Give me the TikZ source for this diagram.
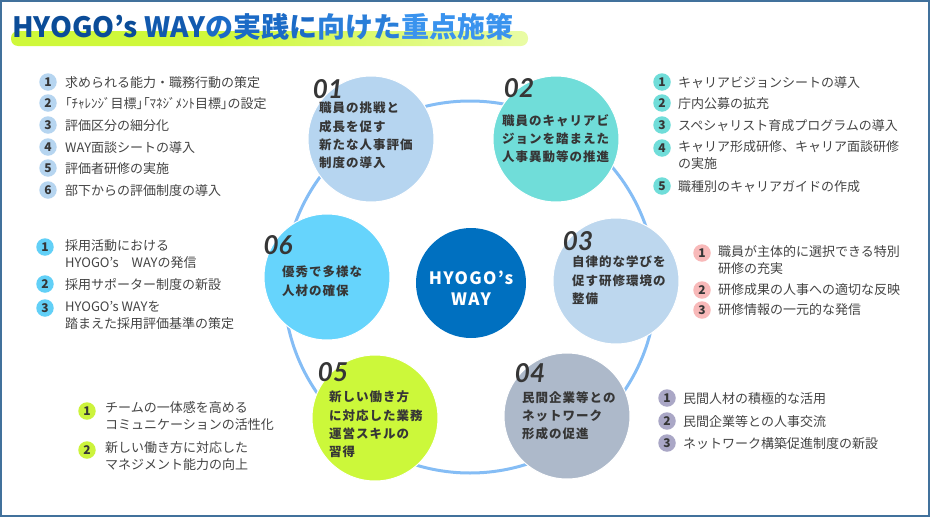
\documentclass[tikz,border=0pt]{standalone}
\usepackage{fontspec}
\setmainfont{Noto Sans CJK JP}
\newfontfamily\numfont{Lato}
\newfontfamily\circfont{Noto Sans CJK JP}[LetterSpace=8]
\newfontfamily\paltfont{Noto Sans CJK JP}[CharacterWidth=AlternateProportional]
\usepackage{tikz}
\definecolor{framec}{HTML}{41719C}
\definecolor{ringc}{HTML}{85BDF5}
\definecolor{coreblue}{HTML}{0070C0}
\definecolor{darktxt}{HTML}{363636}
\definecolor{listtxt}{HTML}{444444}
\definecolor{topicA}{HTML}{B6D5F0}
\definecolor{topicB}{HTML}{70DDD9}
\definecolor{topicC}{HTML}{BDD7EE}
\definecolor{topicD}{HTML}{ADB9CA}
\definecolor{topicE}{HTML}{CCF83A}
\definecolor{topicF}{HTML}{66D4FC}
\definecolor{bulA}{HTML}{B6D5F0}
\definecolor{bulB}{HTML}{70DDD9}
\definecolor{bulC}{HTML}{62D0F7}
\definecolor{bulD}{HTML}{F8B9B9}
\definecolor{bulE}{HTML}{CCF33C}
\definecolor{bulF}{HTML}{AAA7C6}
\definecolor{ttlA}{HTML}{0B4C98}
\definecolor{ttlB}{HTML}{1259AE}
\definecolor{ttlC}{HTML}{1B6AC6}
\definecolor{ttlD}{HTML}{2A7ED9}
\definecolor{ttlE}{HTML}{3A93EE}
\definecolor{barY}{HTML}{F6F31A}
\definecolor{barL}{HTML}{CFF83A}
\pgfdeclarehorizontalshading{titlebar}{100bp}{color(0bp)=(barY); color(5bp)=(barL); color(45bp)=(barL); color(100bp)=(white)}
\tikzset{
    topic/.style={circle, minimum size=126pt, inner sep=0pt, draw=white, line width=1pt},
    topicno/.style={inner sep=0pt, text=darktxt,
    	font=\numfont\bfseries\itshape\fontsize{26}{26}\selectfont},
    topictext/.style={anchor=north west, align=left, inner sep=0pt, text=darktxt,
    	font=\circfont\bfseries\fontsize{12.5}{18.3}\selectfont}
}
\tikzset{
    bullet/.style={circle, minimum size=17.5pt, inner sep=0pt, text=darktxt,
    	font=\bfseries\fontsize{12}{12}\selectfont},
    itemtext/.style={anchor=north west, align=left, inner sep=0pt, text=listtxt,
    	font=\fontsize{13}{17}\selectfont}
}

\begin{document}
\begin{tikzpicture}[x=1pt, y=-1pt]
  \useasboundingbox (0,0) rectangle (930,517);
  \draw [framec, line width=2pt] (1,1) rectangle (929,516);

  \shade [shading=titlebar, rounded corners=7pt] (11,31) rectangle (528,46);
  \node (title) [anchor=base west, inner sep=0pt, font=\bfseries\fontsize{28}{28}\selectfont] at (12,37.5)
    {\textcolor{ttlA}{HYOGO’s} \textcolor{ttlB}{WAY}\textcolor{ttlC}{の実践に}\textcolor{ttlD}{向けた}\textcolor{ttlE}{重点施策}};

  \coordinate (mid) at (470,287);
  \draw [ringc, line width=3pt] (mid) circle [radius=186];

  \node (core) [circle, fill=coreblue, minimum size=110pt, inner sep=0pt] at (471,283) {};
  \node (corelabel) [align=center, inner sep=0pt, text=white,
    font=\circfont\bfseries\fontsize{17}{21}\selectfont] at (471,288.5) {HYOGO’s\\WAY};

  \node (c1) [topic, fill=topicA] at (371,139) {};
  \node (c2) [topic, fill=topicB] at (556,139) {};
  \node (c3) [topic, fill=topicC] at (616,281) {};
  \node (c4) [topic, fill=topicD] at (567,416) {};
  \node (c5) [topic, fill=topicE] at (375,418) {};
  \node (c6) [topic, fill=topicF] at (327,277) {};

  \node (n1) [topicno] at (328,89) {01};
  \node (n2) [topicno] at (519,88) {02};
  \node (n3) [topicno] at (578,241) {03};
  \node (n4) [topicno] at (530,373) {04};
  \node (n5) [topicno] at (333,372) {05};
  \node (n6) [topicno] at (278,245) {06};

  \node (t1) [topictext] at (319,102) {職員の挑戦と\\成長を促す\\新たな人事評価\\制度の導入};
  \node (t2) [topictext] at (502,114) {職員のキャリアビ\\ジョンを踏まえた\\人事異動等の推進};
  \node (t3) [topictext] at (572,256) {自律的な学びを\\促す研修環境の\\整備};
  \node (t4) [topictext] at (522,391) {民間企業等との\\ネットワーク\\形成の促進};
  \node (t5) [topictext] at (329,391) {新しい働き方\\に対応した業務\\運営スキルの\\習得};
  \node (t6) [topictext] at (282,266) {優秀で多様な\\人材の確保};

  \node (a1) [bullet, fill=bulA] at (48,82) {1};
  \node (a2) [bullet, fill=bulA] at (48,103) {2};
  \node (a3) [bullet, fill=bulA] at (48,125) {3};
  \node (a4) [bullet, fill=bulA] at (48,147) {4};
  \node (a5) [bullet, fill=bulA] at (48,168) {5};
  \node (a6) [bullet, fill=bulA] at (48,190) {6};
  \node (a1t) [itemtext] at (65,76) {求められる能力・職務行動の策定};
  \node (a2t) [itemtext] at (65,97) {{\paltfont「ﾁｬﾚﾝｼﾞ目標」「ﾏﾈｼﾞﾒﾝﾄ目標」}の設定};
  \node (a3t) [itemtext] at (65,119) {評価区分の細分化};
  \node (a4t) [itemtext] at (65,141) {WAY面談シートの導入};
  \node (a5t) [itemtext] at (65,162) {評価者研修の実施};
  \node (a6t) [itemtext] at (65,184) {部下からの評価制度の導入};

  \node (b1) [bullet, fill=bulB] at (662,82) {1};
  \node (b2) [bullet, fill=bulB] at (662,103) {2};
  \node (b3) [bullet, fill=bulB] at (662,125) {3};
  \node (b4) [bullet, fill=bulB] at (662,148) {4};
  \node (b5) [bullet, fill=bulB] at (662,186) {5};
  \node (b1t) [itemtext] at (678,76) {キャリアビジョンシートの導入};
  \node (b2t) [itemtext] at (678,97) {庁内公募の拡充};
  \node (b3t) [itemtext] at (678,119) {スペシャリスト育成プログラムの導入};
  \node (b4t) [itemtext] at (678,140) {キャリア形成研修、キャリア面談研修\\の実施};
  \node (b5t) [itemtext] at (678,180) {職種別のキャリアガイドの作成};

  \node (f1) [bullet, fill=bulC] at (45,247) {1};
  \node (f2) [bullet, fill=bulC] at (45,284) {2};
  \node (f3) [bullet, fill=bulC] at (45,308) {3};
  \node (f1t) [itemtext] at (65,239) {採用活動における\\HYOGO’s　WAYの発信};
  \node (f2t) [itemtext] at (65,278) {採用サポーター制度の新設};
  \node (f3t) [itemtext] at (65,301) {HYOGO’s WAYを\\踏まえた採用評価基準の策定};

  \node (d1) [bullet, fill=bulD] at (702,253) {1};
  \node (d2) [bullet, fill=bulD] at (702,290) {2};
  \node (d3) [bullet, fill=bulD] at (702,310) {3};
  \node (d1t) [itemtext] at (718,245) {職員が主体的に選択できる特別\\研修の充実};
  \node (d2t) [itemtext] at (718,283) {研修成果の人事への適切な反映};
  \node (d3t) [itemtext] at (718,303) {研修情報の一元的な発信};

  \node (e1) [bullet, fill=bulE] at (87,411) {1};
  \node (e2) [bullet, fill=bulE] at (87,450) {2};
  \node (e1t) [itemtext] at (105,401) {チームの一体感を高める\\コミュニケーションの活性化};
  \node (e2t) [itemtext] at (105,441) {新しい働き方に対応した\\マネジメント能力の向上};

  \node (g1) [bullet, fill=bulF] at (667,398) {1};
  \node (g2) [bullet, fill=bulF] at (667,421) {2};
  \node (g3) [bullet, fill=bulF] at (667,443) {3};
  \node (g1t) [itemtext] at (683,392) {民間人材の積極的な活用};
  \node (g2t) [itemtext] at (683,415) {民間企業等との人事交流};
  \node (g3t) [itemtext] at (683,437) {ネットワーク構築促進制度の新設};
\end{tikzpicture}
\end{document}
